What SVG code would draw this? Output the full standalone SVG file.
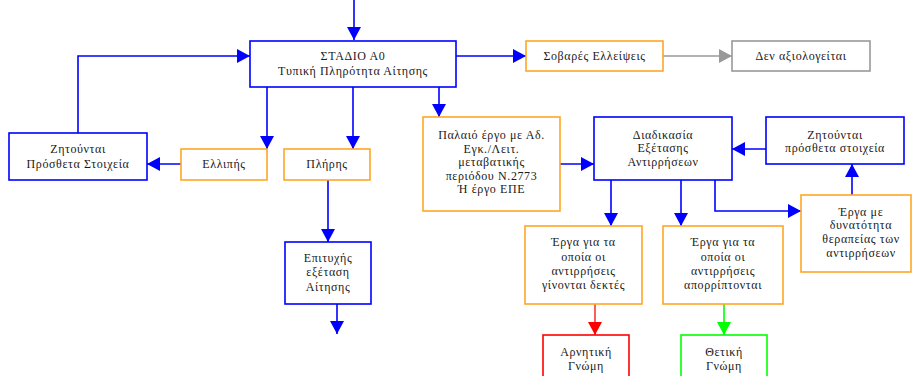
<svg xmlns="http://www.w3.org/2000/svg" width="912" height="376" viewBox="0 0 912 376">
<defs>
<marker id="ab" markerUnits="userSpaceOnUse" markerWidth="14" markerHeight="14" refX="13" refY="7" orient="auto"><path d="M0,0 L13,7 L0,14 Z" fill="#0000ff"/></marker>
<marker id="ag" markerUnits="userSpaceOnUse" markerWidth="14" markerHeight="14" refX="13" refY="7" orient="auto"><path d="M0,0 L13,7 L0,14 Z" fill="#999999"/></marker>
<marker id="ar" markerUnits="userSpaceOnUse" markerWidth="14" markerHeight="14" refX="13" refY="7" orient="auto"><path d="M0,0 L13,7 L0,14 Z" fill="#ff0000"/></marker>
<marker id="agr" markerUnits="userSpaceOnUse" markerWidth="14" markerHeight="14" refX="13" refY="7" orient="auto"><path d="M0,0 L13,7 L0,14 Z" fill="#00ff00"/></marker>
</defs>
<style>
rect{fill:#ffffff;stroke-width:1.6}
.b{stroke:#0000ff}
.o{stroke:#ffa726}
.g{stroke:#999999}
.r{stroke:#ff0000}
.gr{stroke:#00ff00}
text{font-family:"Liberation Serif","Times New Roman",serif;font-size:12px;fill:#1a1a1a;text-anchor:middle;letter-spacing:0.6px}
.c path{fill:none;stroke-width:1.6}
.cb{stroke:#0000ff;marker-end:url(#ab)}
.cg{stroke:#999999;marker-end:url(#ag)}
.cr{stroke:#ff3333;marker-end:url(#ar)}
.cgr{stroke:#00ff00;marker-end:url(#agr)}
</style>
<g class="c" id="connectors">
<path class="cb" d="M354,0 V40"/>
<path class="cb" d="M78,133 V56 H250"/>
<path class="cb" d="M267,87 V149"/>
<path class="cb" d="M181,164 H147"/>
<path class="cb" d="M353,87 V149"/>
<path class="cb" d="M439,87 V117"/>
<path class="cb" d="M456,56 H526"/>
<path class="cg" d="M663,56 H732"/>
<path class="cb" d="M328,180 V242"/>
<path class="cb" d="M337,304 V334"/>
<path class="cb" d="M560,164 H594"/>
<path class="cb" d="M766,149 H732"/>
<path class="cb" d="M852,195 V164"/>
<path class="cb" d="M611,180 V226"/>
<path class="cb" d="M681,180 V226"/>
<path class="cb" d="M715,180 V211 H801"/>
<path class="cr" d="M595,304 V335"/>
<path class="cgr" d="M724,304 V335"/>
</g>
<g id="n-stadio"><rect class="b" x="250" y="41" width="206" height="46"/><text x="353" y="60">ΣΤΑΔΙΟ Α0</text><text x="353" y="75">Τυπική Πληρότητα Αίτησης</text></g>
<g id="n-zitountai1"><rect class="b" x="9" y="133" width="138" height="47"/><text x="78" y="153">Ζητούνται</text><text x="78" y="168">Πρόσθετα Στοιχεία</text></g>
<g id="n-ellipis"><rect class="o" x="181" y="149" width="86" height="31"/><text x="224" y="168">Ελλιπής</text></g>
<g id="n-plires"><rect class="o" x="284" y="149" width="86" height="31"/><text x="327" y="168">Πλήρης</text></g>
<g id="n-sovares"><rect class="o" x="526" y="41" width="137" height="30"/><text x="594.5" y="60">Σοβαρές Ελλείψεις</text></g>
<g id="n-den"><rect class="g" x="732" y="41" width="138" height="30"/><text x="801" y="60">Δεν αξιολογείται</text></g>
<g id="n-palaio"><rect class="o" x="423" y="117" width="137" height="94"/><text x="491.5" y="139">Παλαιό έργο με Αδ.</text><text x="491.5" y="153">Εγκ./Λειτ.</text><text x="491.5" y="166">μεταβατικής</text><text x="491.5" y="180">περιόδου Ν.2773</text><text x="491.5" y="193">Ή έργο ΕΠΕ</text></g>
<g id="n-diadikasia"><rect class="b" x="594" y="117" width="138" height="63"/><text x="663" y="139">Διαδικασία</text><text x="663" y="152">Εξέτασης</text><text x="663" y="166">Αντιρρήσεων</text></g>
<g id="n-zitountai2"><rect class="b" x="766" y="117" width="138" height="47"/><text x="835" y="139">Ζητούνται</text><text x="835" y="152">πρόσθετα στοιχεία</text></g>
<g id="n-therapeia"><rect class="o" x="801" y="195" width="110" height="77"/><text x="861" y="216">Έργα με</text><text x="861" y="229">δυνατότητα</text><text x="861" y="243">θεραπείας των</text><text x="861" y="257">αντιρρήσεων</text></g>
<g id="n-dektes"><rect class="o" x="525" y="226" width="117" height="78"/><text x="583.5" y="246">Έργα για τα</text><text x="583.5" y="261">οποία οι</text><text x="583.5" y="275">αντιρρήσεις</text><text x="583.5" y="289">γίνονται δεκτές</text></g>
<g id="n-aporr"><rect class="o" x="663" y="226" width="120" height="78"/><text x="723" y="246">Έργα για τα</text><text x="723" y="261">οποία οι</text><text x="723" y="275">αντιρρήσεις</text><text x="723" y="289">απορρίπτονται</text></g>
<g id="n-epityxis"><rect class="b" x="285" y="242" width="86" height="62"/><text x="328" y="262">Επιτυχής</text><text x="328" y="276">εξέταση</text><text x="328" y="291">Αίτησης</text></g>
<g id="n-arnitiki"><rect class="r" x="543" y="335" width="86" height="50"/><text x="586" y="356">Αρνητική</text><text x="586" y="370">Γνώμη</text></g>
<g id="n-thetiki"><rect class="gr" x="681" y="335" width="86" height="50"/><text x="724" y="356">Θετική</text><text x="724" y="370">Γνώμη</text></g>
</svg>
